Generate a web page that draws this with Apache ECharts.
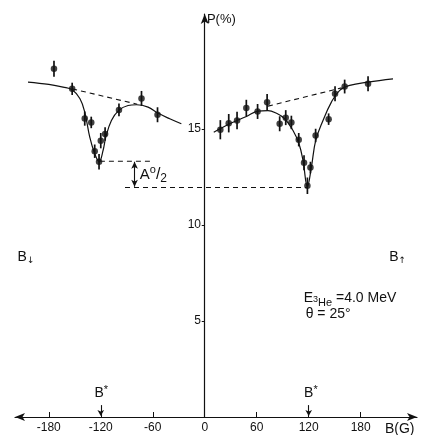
<!DOCTYPE html>
<html><head><meta charset="utf-8">
<script src="https://cdn.jsdelivr.net/npm/echarts@6/dist/echarts.min.js"></script>
<style>html,body{margin:0;padding:0;background:#fff}#c{width:422px;height:435px}</style>
</head><body><div id="c"></div>
<script>
// Measured points [B (G), P (%), error]
const leftPoints = [
  [-174, 18.15, 0.42], [-153, 17.1, 0.32], [-138.5, 15.55, 0.37], [-131, 15.35, 0.3],
  [-127, 13.85, 0.35], [-122, 13.3, 0.4], [-120, 14.4, 0.4], [-115, 14.75, 0.35],
  [-99, 16.0, 0.33], [-73, 16.6, 0.39], [-54.5, 15.75, 0.39]
];
const rightPoints = [
  [18, 14.97, 0.5], [27.7, 15.31, 0.48], [37.3, 15.45, 0.46], [48, 16.1, 0.43],
  [61, 15.92, 0.39], [72, 16.4, 0.43], [86.5, 15.28, 0.39], [93.5, 15.6, 0.39],
  [100, 15.35, 0.35], [108.5, 14.45, 0.35], [114.6, 13.25, 0.39], [118.5, 12.05, 0.43],
  [122, 13.0, 0.3], [128, 14.67, 0.35], [143, 15.52, 0.3], [150.4, 16.84, 0.39],
  [161.5, 17.22, 0.36], [188.5, 17.36, 0.39]
];
// Fitted curves
const leftCurve = [
  [-204, 17.45], [-180, 17.33], [-163.5, 17.19], [-153, 17.05], [-144, 16.58], [-138.5, 15.89],
  [-132.7, 14.58], [-127, 13.72], [-121.9, 13.3], [-117.3, 13.9], [-114.2, 14.58], [-107.7, 15.45],
  [-99.2, 15.98], [-88.5, 16.23], [-78.8, 16.27], [-65.4, 16.15], [-54.6, 15.85], [-40.4, 15.54], [-27, 15.28]
];
const rightCurve = [
  [10.4, 14.84], [28.8, 15.28], [48.1, 15.66], [61.5, 15.94], [73, 15.97], [82.7, 15.83],
  [92.3, 15.54], [101.9, 14.93], [108.8, 14.24], [113.4, 13.37], [118.5, 12.0], [123.1, 13.02],
  [128.1, 14.41], [136.5, 15.45], [146.2, 16.41], [155.8, 17.02], [167.3, 17.28], [188.5, 17.45], [217.3, 17.62]
];
const leftDashed = [[-153, 17.1], [-78, 16.3]];
const rightDashed = [[73, 16.2], [158, 17.15]];
const minDashed = [[-121, 13.33], [-61, 13.33]];
const halfDashed = [[-92, 11.96], [118, 11.96]];
const xTicks = [-180, -120, -60, 0, 60, 120, 180];
const yTicks = [5, 10, 15];
const bStar = [-120, 120];

const FONT = 'Liberation Sans';
const chart = echarts.init(document.getElementById('c'), null, {renderer: 'canvas'});
const lineStyle = {color: '#111', width: 1.2};
const dashStyle = {color: '#111', width: 1.1, type: [5, 4]};
function dashSeries(d) {
  return {type: 'line', data: d, symbol: 'none', lineStyle: dashStyle, silent: true, z: 2};
}
const allPts = leftPoints.concat(rightPoints);

chart.setOption({
  animation: false,
  backgroundColor: '#fff',
  grid: {left: 15, right: 5, top: 14, bottom: 18},
  xAxis: {
    type: 'value', min: -219, max: 245,
    axisLine: {onZero: true, lineStyle: {color: '#111', width: 1.2}, symbol: ['arrow', 'arrow'], symbolSize: [6, 10]},
    axisTick: {show: true, inside: true, length: 5, lineStyle: {color: '#111', width: 1}, customValues: xTicks.filter(v => v !== 0)},
    axisLabel: {customValues: xTicks, color: '#111', fontFamily: FONT, fontSize: 12, margin: 5},
    splitLine: {show: false}
  },
  yAxis: {
    type: 'value', min: 0, max: 21,
    axisLine: {onZero: true, lineStyle: {color: '#111', width: 1.2}, symbol: ['none', 'arrow'], symbolSize: [6, 10]},
    axisTick: {show: true, length: 3, lineStyle: {color: '#111', width: 1}, customValues: yTicks},
    axisLabel: {customValues: yTicks, color: '#111', fontFamily: FONT, fontSize: 12, margin: -186},
    splitLine: {show: false}
  },
  series: [
    {type: 'line', data: leftCurve, smooth: 0.4, symbol: 'none', lineStyle: lineStyle, z: 3},
    {type: 'line', data: rightCurve, smooth: 0.4, symbol: 'none', lineStyle: lineStyle, z: 3},
    dashSeries(leftDashed), dashSeries(rightDashed), dashSeries(minDashed), dashSeries(halfDashed),
    {
      type: 'custom', z: 4,
      data: allPts,
      renderItem: function (params, api) {
        const b = api.value(0), p = api.value(1), e = api.value(2);
        const top = api.coord([b, p + e]);
        const bot = api.coord([b, p - e]);
        return {type: 'line', shape: {x1: top[0], y1: top[1], x2: bot[0], y2: bot[1]},
          style: {stroke: '#111', lineWidth: 1.7}};
      }
    },
    {type: 'scatter', data: allPts.map(d => [d[0], d[1]]), symbol: 'circle', symbolSize: 6.5,
      itemStyle: {color: '#111'}, z: 5},
    {
      type: 'line', data: [], symbol: 'none',
      markLine: {
        silent: true, symbol: ['arrow', 'arrow'], symbolSize: [5, 7],
        label: {show: false},
        lineStyle: {color: '#111', width: 1.1, type: 'solid'},
        data: [
          [{coord: [-81, 13.3]}, {coord: [-81, 12.0]}]
        ]
      }
    },
    {
      type: 'line', data: [], symbol: 'none',
      markLine: {
        silent: true, symbol: ['none', 'arrow'], symbolSize: [5, 6],
        label: {show: false},
        lineStyle: {color: '#111', width: 1.1, type: 'solid'},
        data: bStar.map(b => [{coord: [b, 0.62]}, {coord: [b, 0.05]}])
      }
    }
  ]
});

function px(b, p) { return chart.convertToPixel({gridIndex: 0}, [b, p]); }
function txt(b, p, text, rich, align) {
  const q = px(b, p);
  return {type: 'text', x: q[0], y: q[1], style: {text: text, rich: rich || {}, fill: '#111',
    font: '12px "' + FONT + '"', align: align || 'left', verticalAlign: 'middle'}};
}
const base = {fontFamily: FONT, fontSize: 13, color: '#111'};
const big = {fontFamily: FONT, fontSize: 14, color: '#111'};
chart.setOption({
  graphic: [
    txt(2.5, 20.7, '{a|P(%)}', {a: base}),
    txt(208, -0.65, '{a|B(G)}', {a: big}),
    txt(-216, 8.35, '{a|B}{s|↓}', {a: big, s: {fontFamily: 'DejaVu Sans', fontSize: 9, color: '#111', padding: [8, 0, 0, 0]}}),
    txt(213, 8.35, '{a|B}{s|↑}', {a: big, s: {fontFamily: 'DejaVu Sans', fontSize: 9, color: '#111', padding: [8, 0, 0, 0]}}),
    txt(-119.5, 1.23, '{a|B}{s|*}', {a: big, s: {fontFamily: FONT, fontSize: 11, color: '#111', padding: [0, 0, 6, 0]}}, 'center'),
    txt(122.5, 1.23, '{a|B}{s|*}', {a: big, s: {fontFamily: FONT, fontSize: 11, color: '#111', padding: [0, 0, 6, 0]}}, 'center'),
    txt(114.2, 6.2, '{a|E}{s|3}{h|He}{a| =4.0 MeV}', {a: big,
      s: {fontFamily: FONT, fontSize: 9, color: '#111', padding: [3, 0, 0, 0]},
      h: {fontFamily: FONT, fontSize: 11, color: '#111', padding: [9, 0, 0, 0]}}),
    txt(116.5, 5.35, '{a|θ = 25°}', {a: big}),
    txt(-75, 12.64, '{a|A}{s|o}{c|/}{b|2}', {a: {fontFamily: FONT, fontSize: 15, color: '#111'},
      s: {fontFamily: FONT, fontSize: 11, color: '#111', padding: [0, 0, 8, 0]},
      c: {fontFamily: FONT, fontSize: 16, color: '#111'},
      b: {fontFamily: FONT, fontSize: 12, color: '#111', padding: [8, 0, 0, 0]}})
  ]
});
</script></body></html>
